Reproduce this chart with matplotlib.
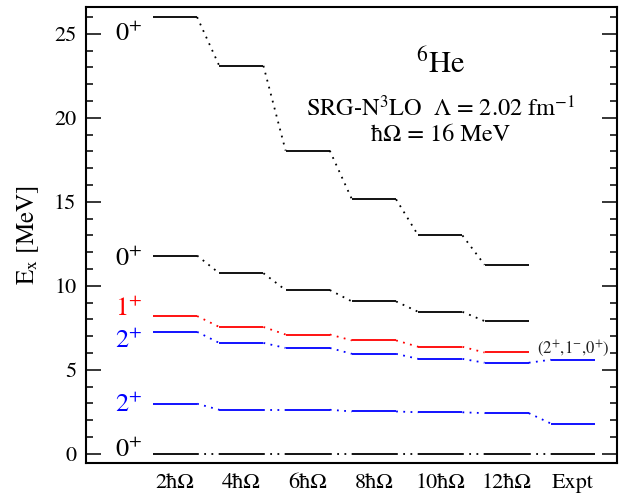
import matplotlib
matplotlib.use('Agg')
import matplotlib.pyplot as plt
import numpy as np
#------------------------------------------------------------------------------#
# Excitation energies (MeV).
columns = ['2ħΩ', '4ħΩ', '6ħΩ', '8ħΩ', '10ħΩ', '12ħΩ', 'Expt']

zero_plus_3 = [26.0, 23.1, 18.05, 15.15, 13.0, 11.25]
zero_plus_2 = [11.8, 10.75, 9.75, 9.07, 8.45, 7.9]
one_plus = [8.2, 7.55, 7.1, 6.75, 6.37, 6.03]
two_plus_2 = [7.26, 6.6, 6.3, 5.95, 5.65, 5.42, 5.6]
two_plus_1 = [2.98, 2.62, 2.62, 2.52, 2.47, 2.42, 1.8]
zero_plus_1 = [0.0, 0.0, 0.0, 0.0, 0.0, 0.0, 0.0]

level_labels = ['0$^{+}$', '0$^{+}$', '1$^{+}$', '2$^{+}$', '2$^{+}$', '0$^{+}$']
label_y = [24.6, 11.15, 8.2, 6.27, 2.5, -0.2]
expt_note = '(2$^{+}$,1$^{-}$,0$^{+}$)'
#------------------------------------------------------------------------------#
plt.rcParams['font.family'] = ['STIXGeneral', 'DejaVu Serif']
plt.rcParams['mathtext.fontset'] = 'stix'

fig = plt.figure(figsize=(6.29, 4.95), dpi=100)
ax = fig.add_axes([0.1367, 0.0646, 0.8443, 0.9213])

half = 0.333  # half width of one level bar


def draw_levels(values, color):
    xs = np.arange(1, len(values) + 1)
    for x, y in zip(xs, values):
        ax.plot([x - half, x + half], [y, y], color=color, lw=1.3,
                solid_capstyle='butt')
    for i in range(len(values) - 1):
        ax.plot([xs[i] + half, xs[i + 1] - half], [values[i], values[i + 1]],
                color=color, lw=1.3, linestyle=(0, (1, 3)))


draw_levels(zero_plus_3, 'black')
draw_levels(zero_plus_2, 'black')
draw_levels(one_plus, 'red')
draw_levels(two_plus_2, 'blue')
draw_levels(two_plus_1, 'blue')
draw_levels(zero_plus_1, 'black')

label_colors = ['black', 'black', 'red', 'blue', 'blue', 'black']
for lab, y, c in zip(level_labels, label_y, label_colors):
    ax.text(0.1, y, lab, color=c, fontsize=19, ha='left', va='baseline')

ax.text(7.0, 6.0, expt_note, fontsize=12, color='#222222',
        ha='center', va='baseline')

ax.text(5.0, 22.66, '$^{6}$He', fontsize=22, ha='center', va='baseline')
ax.text(5.0, 20.1, r'SRG-N$^{3}$LO  $\Lambda$ = 2.02 fm$^{-1}$', fontsize=17.5,
        ha='center', va='baseline')
ax.text(5.0, 18.6, 'ħΩ = 16 MeV', fontsize=17.5, ha='center', va='baseline')
#------------------------------------------------------------------------------#
ax.set_xlim(-0.342, 7.664)
ax.set_ylim(-0.55, 26.6)
ax.set_xticks(np.arange(1, len(columns) + 1))
ax.set_xticklabels(columns, fontsize=16)
ax.tick_params(axis='x', length=0, pad=7)
ax.set_yticks([0, 5, 10, 15, 20, 25])
ax.set_yticks(np.arange(0, 27, 1), minor=True)
ax.tick_params(axis='y', which='major', direction='in', length=11, width=1.1,
               right=True, labelsize=16, pad=7)
ax.tick_params(axis='y', which='minor', direction='in', length=5, width=1.1,
               right=True)
for s in ax.spines.values():
    s.set_linewidth(1.5)

ax.set_ylabel('E$_{\\rm x}$ [MeV]', fontsize=18)
ax.yaxis.set_label_coords(-0.085, 0.5)

plt.savefig('out.png', dpi=100)
